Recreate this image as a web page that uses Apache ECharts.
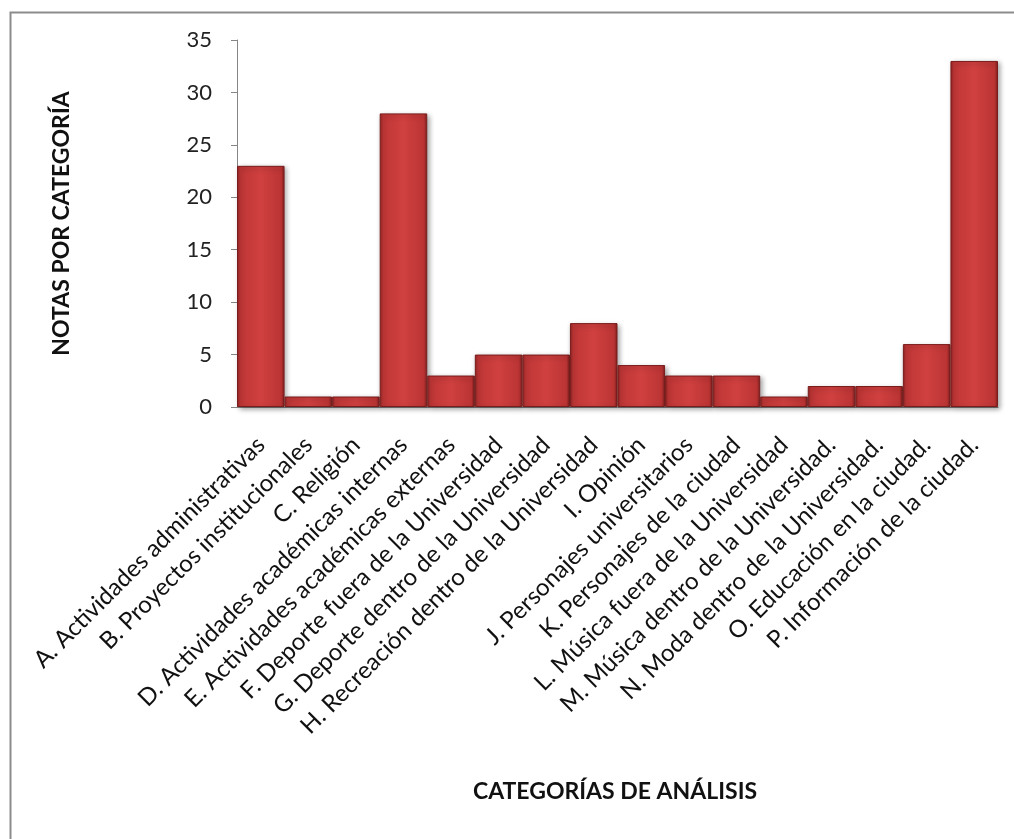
<!DOCTYPE html>
<html>
<head>
<meta charset="utf-8">
<script src="https://cdn.jsdelivr.net/npm/echarts@6/dist/echarts.min.js"></script>
<style>
  html, body { margin: 0; padding: 0; background: #fff; }
  #chart { width: 1014px; height: 839px; }
</style>
</head>
<body>
<div id="chart"></div>
<script>
// Categorías de análisis y número de notas en cada una
const categories = [
  'A. Actividades administrativas',
  'B. Proyectos institucionales',
  'C. Religión',
  'D. Actividades académicas internas',
  'E. Actividades académicas externas',
  'F. Deporte fuera de la Universidad',
  'G. Deporte dentro de la Universidad',
  'H. Recreación dentro de la Universidad',
  'I. Opinión',
  'J. Personajes universitarios',
  'K. Personajes de la ciudad',
  'L. Música fuera de la Universidad',
  'M. Música dentro de la Universidad.',
  'N. Moda dentro de la Universidad.',
  'O. Educación en la ciudad.',
  'P. Información de la ciudad.'
];
const notas = [23, 1, 1, 28, 3, 5, 5, 8, 4, 3, 3, 1, 2, 2, 6, 33];
const yTicks = { min: 0, max: 35, interval: 5 };

const FONT = 'Lato, "Open Sans", sans-serif';

const chart = echarts.init(document.getElementById('chart'), null, { renderer: 'canvas' });

// Barras con bordes oscuros y centro más claro
const barColor = new echarts.graphic.LinearGradient(0, 0, 1, 0, [
  { offset: 0.00, color: '#8e2323' },
  { offset: 0.07, color: '#bf3636' },
  { offset: 0.50, color: '#d04040' },
  { offset: 0.93, color: '#bb3434' },
  { offset: 1.00, color: '#7e1d1d' }
]);

chart.setOption({
  animation: false,
  backgroundColor: '#fff',
  graphic: [{
    type: 'rect',
    left: 8, top: 10,
    shape: { width: 1100, height: 900 },
    style: { fill: 'none', stroke: '#8c8c8c', lineWidth: 2 },
    silent: true
  }, {
    type: 'text',
    left: 473, top: 780,
    style: { text: 'CATEGORÍAS DE ANÁLISIS', font: 'bold 23px ' + FONT, fill: '#111' }
  }],
  grid: { left: 237, right: 16, top: 40, bottom: 432, containLabel: false },
  xAxis: {
    type: 'category',
    data: categories,
    axisLine: { show: true, lineStyle: { color: '#868686', width: 1 } },
    axisTick: { show: false },
    axisLabel: {
      interval: 0, rotate: 45, margin: 34,
      fontFamily: FONT, fontSize: 24, color: '#111'
    }
  },
  yAxis: {
    type: 'value',
    min: yTicks.min, max: yTicks.max, interval: yTicks.interval,
    name: 'NOTAS POR CATEGORÍA',
    nameLocation: 'middle',
    nameGap: 164,
    nameRotate: 90,
    nameTextStyle: { fontFamily: FONT, fontSize: 23, fontWeight: 'bold', color: '#111' },
    axisLine: { show: true, lineStyle: { color: '#868686', width: 1 } },
    axisTick: { show: true, length: 6, lineStyle: { color: '#868686' } },
    splitLine: { show: false },
    axisLabel: { fontFamily: FONT, fontSize: 22, color: '#222', margin: 25 }
  },
  series: [{
    type: 'bar',
    data: notas,
    barCategoryGap: '0%',
    itemStyle: {
      color: barColor,
      borderColor: '#7a1c1c',
      borderWidth: 1,
      shadowColor: 'rgba(0,0,0,0.35)',
      shadowBlur: 5,
      shadowOffsetX: 2,
      shadowOffsetY: 2
    }
  }]
});
</script>
</body>
</html>
